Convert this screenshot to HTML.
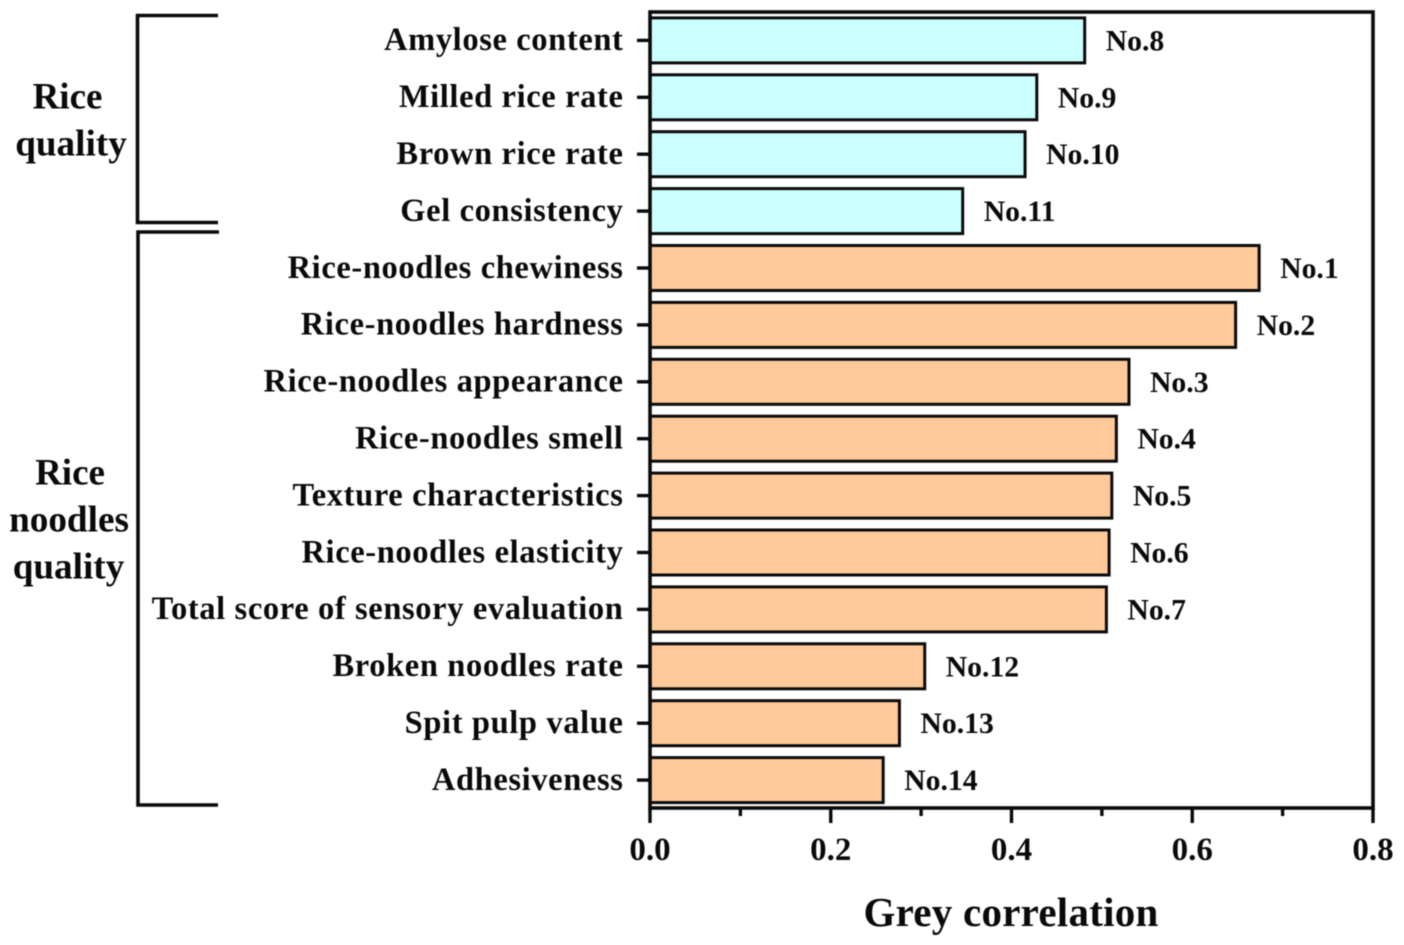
<!DOCTYPE html>
<html>
<head>
<meta charset="utf-8">
<style>
html,body{margin:0;padding:0;background:#fff;width:1404px;height:945px;overflow:hidden}
svg{display:block;filter:blur(0.45px)}
text{font-family:"Liberation Serif",serif;font-weight:bold;fill:#0a0a0a}
</style>
</head>
<body>
<svg id="chart" width="1404" height="945" viewBox="0 0 1404 945" xmlns="http://www.w3.org/2000/svg"></svg>
<script>
const categories = ["Amylose content","Milled rice rate","Brown rice rate","Gel consistency","Rice-noodles chewiness","Rice-noodles hardness","Rice-noodles appearance","Rice-noodles smell","Texture characteristics","Rice-noodles elasticity","Total score of sensory evaluation","Broken noodles rate","Spit pulp value","Adhesiveness"];
const values = [0.481,0.428,0.415,0.346,0.674,0.648,0.530,0.516,0.511,0.508,0.505,0.304,0.276,0.258];
const ranks = ["No.8","No.9","No.10","No.11","No.1","No.2","No.3","No.4","No.5","No.6","No.7","No.12","No.13","No.14"];
const groups = ["rice","rice","rice","rice","noodles","noodles","noodles","noodles","noodles","noodles","noodles","noodles","noodles","noodles"];
const xTicks = [0,0.2,0.4,0.6,0.8];
const xMinorTicks = [0.1,0.3,0.5,0.7];

const svg = document.getElementById('chart');
const NS = 'http://www.w3.org/2000/svg';
const L = 650, R = 1373, T = 12, B = 808;
const xMax = 0.8;
function xScale(v){ return L + (R - L) * v / xMax; }
function yScale(i){ return 40.4 + 56.9 * i; }
function slug(s){ return s.toLowerCase().replace(/[^a-z0-9]+/g,'-'); }
function el(tag, attrs, text){
  const e = document.createElementNS(NS, tag);
  for (const k in attrs) e.setAttribute(k, attrs[k]);
  if (text !== undefined) e.textContent = text;
  svg.appendChild(e);
  return e;
}
const fills = {rice:'#ccffff', noodles:'#ffc999'};

categories.forEach((c, i) => {
  const y = yScale(i);
  const bar = el('rect', {x:L, y:y-22.5, width:xScale(values[i])-L, height:45, fill:fills[groups[i]], stroke:'#0a0a0a', 'stroke-width':3});
  
  
  const tick = el('line', {x1:L-13, x2:L, y1:y, y2:y, stroke:'#0a0a0a', 'stroke-width':3.4});
  
  
  const label = el('text', {x:623.5, y:y+9.8, 'text-anchor':'end', 'font-size':32.5, 'letter-spacing':0.62}, c);
  
  
  const rank = el('text', {x:xScale(values[i])+21, y:y+10, 'font-size':29.7}, ranks[i]);
  
  
});

const frame = el('rect', {x:L, y:T, width:R-L, height:B-T, fill:'none', stroke:'#0a0a0a', 'stroke-width':3.6});



xTicks.forEach(v => {
  const t = el('line', {x1:xScale(v), x2:xScale(v), y1:B, y2:B+15, stroke:'#0a0a0a', 'stroke-width':3.4});
  
  
  const lb = el('text', {x:xScale(v), y:860, 'text-anchor':'middle', 'font-size':33}, v.toFixed(1));
  
  
});
xMinorTicks.forEach(v => {
  const t = el('line', {x1:xScale(v), x2:xScale(v), y1:B, y2:B+8, stroke:'#0a0a0a', 'stroke-width':3.4});
  
  
});

const xTitle = el('text', {x:1011, y:926, 'text-anchor':'middle', 'font-size':41, 'letter-spacing':0.25}, 'Grey correlation');



const b1 = el('path', {d:'M218 15.5H137.5V222.5H218', fill:'none', stroke:'#0a0a0a', 'stroke-width':3.6});


const b2 = el('path', {d:'M219 232H138V805H218', fill:'none', stroke:'#0a0a0a', 'stroke-width':3.6});



const t1 = el('text', {x:67.5, y:108.7, 'text-anchor':'middle', 'font-size':37}, 'Rice');


const t2 = el('text', {x:71, y:155.5, 'text-anchor':'middle', 'font-size':37.2}, 'quality');


const t3 = el('text', {x:70, y:484.7, 'text-anchor':'middle', 'font-size':37}, 'Rice');


const t4 = el('text', {x:69, y:531.7, 'text-anchor':'middle', 'font-size':37.2}, 'noodles');


const t5 = el('text', {x:68.5, y:578.5, 'text-anchor':'middle', 'font-size':37.2}, 'quality');


</script>
</body>
</html>
